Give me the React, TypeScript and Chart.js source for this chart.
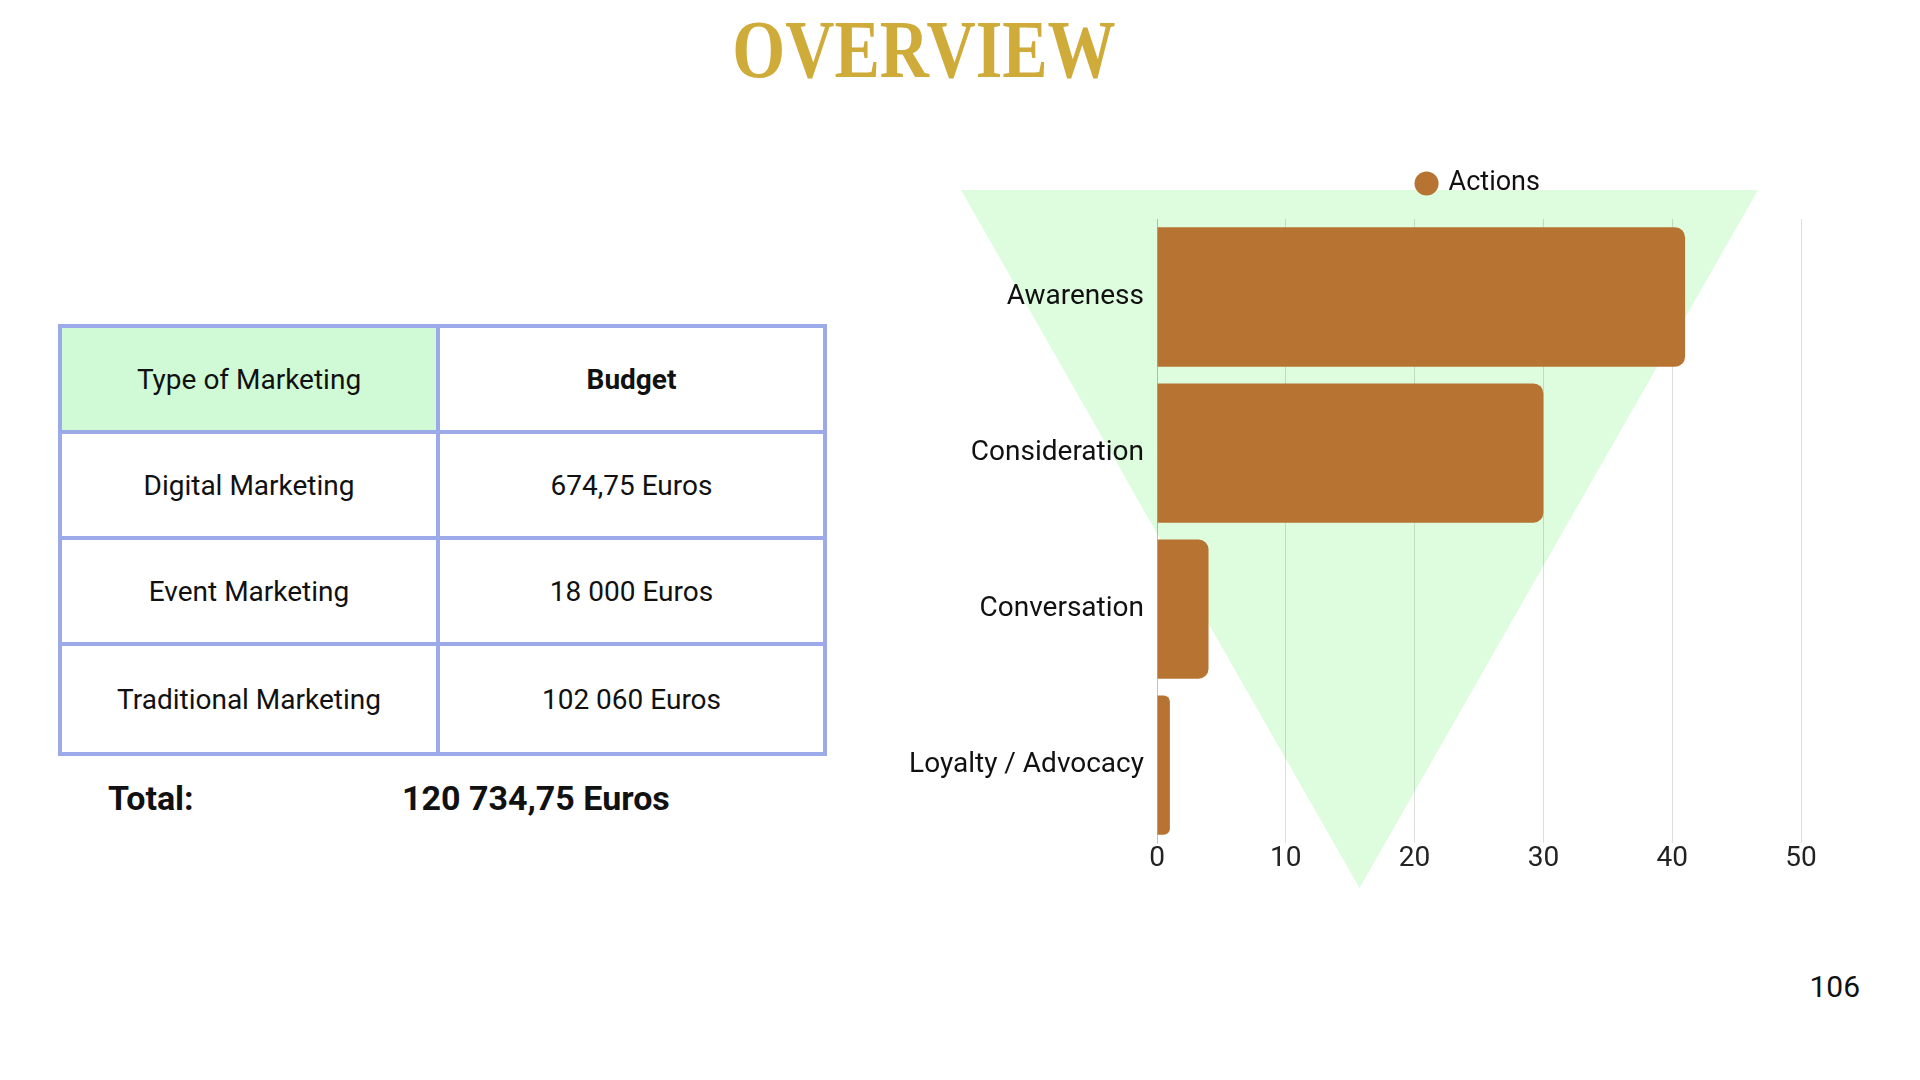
import React, { useEffect, useRef } from 'react';
import { Chart, registerables } from 'chart.js';

Chart.register(...registerables);

// ---------- data ----------
const pageTitle = 'OVERVIEW';
const pageNumber = '106';

const tableHeaders = ['Type of Marketing', 'Budget'];
const marketingTypes = ['Digital Marketing', 'Event Marketing', 'Traditional Marketing'];
const marketingBudgets = ['674,75 Euros', '18 000 Euros', '102 060 Euros'];
const totalLabel = 'Total:';
const totalValue = '120 734,75 Euros';

const stageLabels = ['Awareness', 'Consideration', 'Conversation', 'Loyalty / Advocacy'];
const actionValues = [41, 30, 4, 1];
const seriesName = 'Actions';
const xAxisMin = 0;
const xAxisMax = 50;
const xAxisStep = 10;

// ---------- style ----------
const FONT = 'Roboto, "Noto Sans", sans-serif';
const BAR_COLOR = '#B77332';
const GRID_COLOR = 'rgba(0,0,0,0.13)';
const FUNNEL_COLOR = '#DEFCDE';
const TABLE_BORDER = '#9DAAE9';
const HEADER_FILL = '#D0FAD5';
const GOLD = '#CFAB3A';

function FunnelChart() {
  const ref = useRef<HTMLCanvasElement | null>(null);
  useEffect(() => {
    if (!ref.current) return;
    const chart = new Chart(ref.current, {
      type: 'bar',
      data: {
        labels: stageLabels,
        datasets: [
          {
            label: seriesName,
            data: actionValues,
            backgroundColor: BAR_COLOR,
            borderRadius: 10,
            borderSkipped: 'start',
            barPercentage: 0.893,
            categoryPercentage: 1,
          },
        ],
      },
      options: {
        indexAxis: 'y',
        responsive: false,
        maintainAspectRatio: false,
        animation: false,
        layout: { padding: { left: 10, right: 79, top: 10, bottom: 6 } },
        plugins: {
          legend: {
            display: true,
            position: 'top',
            align: 'center',
            fullSize: false,
            labels: {
              usePointStyle: true,
              pointStyle: 'circle',
              boxWidth: 17,
              boxHeight: 17,
              padding: 10,
              color: '#111',
              font: { family: FONT, size: 27 },
            },
          },
          title: {
            display: true,
            text: ' ',
            padding: 0,
            font: { size: 12, lineHeight: 1 },
            weight: 500,
          } as any,
          tooltip: { enabled: false },
        },
        scales: {
          x: {
            min: xAxisMin,
            max: xAxisMax,
            ticks: {
              stepSize: xAxisStep,
              padding: 0,
              color: '#222',
              font: { family: FONT, size: 28, lineHeight: 1.1 },
            },
            grid: { color: GRID_COLOR, drawTicks: false, lineWidth: 1 },
            border: { display: false },
          },
          y: {
            grid: { display: false, drawTicks: false },
            border: { display: true, color: GRID_COLOR },
            ticks: {
              padding: 13,
              color: '#111',
              font: { family: FONT, size: 28 },
            },
            afterFit: (scale: any) => {
              scale.width = 267;
            },
          },
        },
      },
    });
    return () => chart.destroy();
  }, []);
  return (
    <canvas
      ref={ref}
      width={1000}
      height={730}
      style={{ position: 'absolute', left: 880, top: 150, width: 1000, height: 730 }}
    />
  );
}

const cellBase: React.CSSProperties = {
  boxSizing: 'border-box',
  display: 'flex',
  alignItems: 'center',
  justifyContent: 'center',
  fontFamily: FONT,
  fontSize: 28,
  color: '#111',
};

function BudgetTable() {
  const rows = marketingTypes.map((t, i) => [t, marketingBudgets[i]]);
  const allRows = [tableHeaders, ...rows];
  return (
    <div
      style={{
        position: 'absolute',
        left: 58,
        top: 324,
        width: 769,
        height: 432,
        boxSizing: 'border-box',
        border: `4px solid ${TABLE_BORDER}`,
        display: 'grid',
        gridTemplateColumns: '378px 1fr',
        gridTemplateRows: 'repeat(4, 1fr)',
      }}
    >
      {allRows.map((r, ri) =>
        r.map((txt, ci) => (
          <div
            key={`${ri}-${ci}`}
            style={{
              ...cellBase,
              borderRight: ci === 0 ? `4px solid ${TABLE_BORDER}` : 'none',
              borderBottom: ri < allRows.length - 1 ? `4px solid ${TABLE_BORDER}` : 'none',
              background: ri === 0 && ci === 0 ? HEADER_FILL : 'transparent',
              fontWeight: ri === 0 && ci === 1 ? 700 : 400,
            }}
          >
            {txt}
          </div>
        ))
      )}
    </div>
  );
}

export default function App() {
  return (
    <div
      style={{
        position: 'absolute',
        left: 0,
        top: 0,
        width: 1920,
        height: 1080,
        background: '#fff',
        overflow: 'hidden',
      }}
    >
      <div
        style={{
          position: 'absolute',
          left: 924,
          top: 8,
          fontFamily: '"Liberation Serif", "DejaVu Serif", serif',
          fontWeight: 700,
          fontSize: 83,
          lineHeight: 1,
          color: GOLD,
          whiteSpace: 'nowrap',
          transform: 'translateX(-50%) scaleX(0.82)',
        }}
      >
        {pageTitle}
      </div>

      <BudgetTable />

      <div
        style={{
          position: 'absolute',
          left: 108,
          top: 777,
          fontFamily: FONT,
          fontWeight: 700,
          fontSize: 34,
          lineHeight: '42px',
          color: '#111',
        }}
      >
        {totalLabel}
      </div>
      <div
        style={{
          position: 'absolute',
          left: 402,
          top: 777,
          fontFamily: FONT,
          fontWeight: 700,
          fontSize: 34,
          lineHeight: '42px',
          color: '#111',
          whiteSpace: 'nowrap',
        }}
      >
        {totalValue}
      </div>

      <div
        style={{
          position: 'absolute',
          left: 961,
          top: 190,
          width: 797,
          height: 698,
          background: FUNNEL_COLOR,
          clipPath: 'polygon(0 0, 100% 0, 50% 100%)',
        }}
      />
      <FunnelChart />

      <div
        style={{
          position: 'absolute',
          right: 60,
          top: 969,
          fontFamily: FONT,
          fontSize: 30,
          lineHeight: '36px',
          color: '#111',
        }}
      >
        {pageNumber}
      </div>
    </div>
  );
}
